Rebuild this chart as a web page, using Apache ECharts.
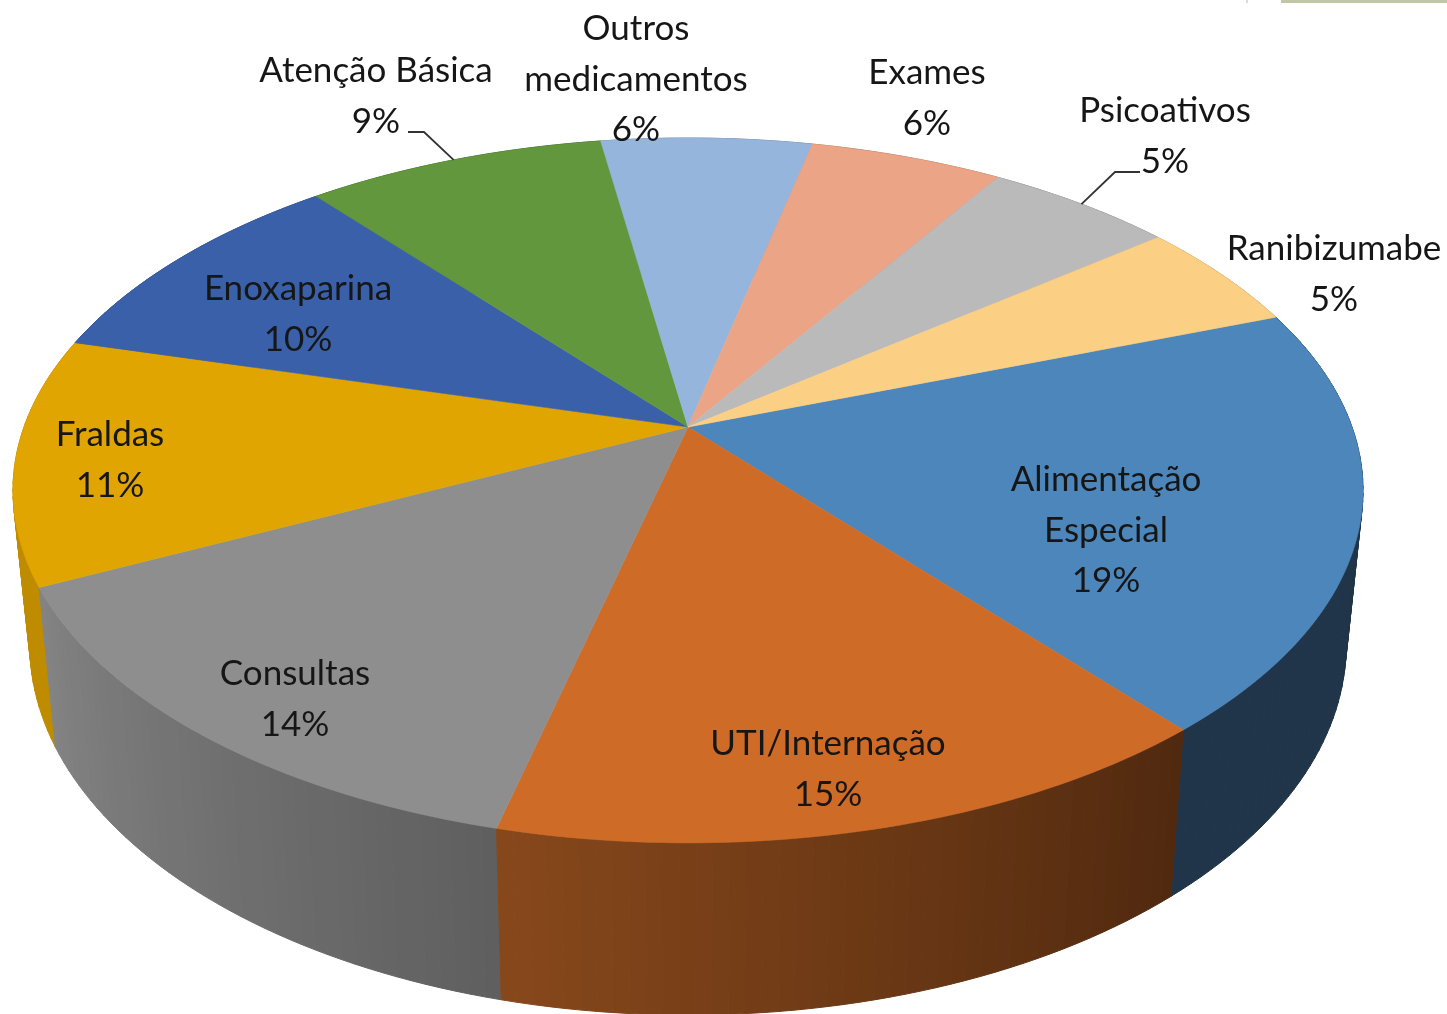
<!DOCTYPE html>
<html>
<head>
<meta charset="utf-8">
<style>html,body{margin:0;padding:0;background:#fff;overflow:hidden}#c{width:1447px;height:1014px}</style>
<script src="https://cdn.jsdelivr.net/npm/echarts@6/dist/echarts.min.js"></script>
</head>
<body>
<div id="c"></div>
<script>
// ---- data (share of spending, %; labels show them rounded)
var categories = ['Alimentação\nEspecial','UTI/Internação','Consultas','Fraldas','Enoxaparina','Atenção Básica','Outros\nmedicamentos','Exames','Psicoativos','Ranibizumabe'];
var shares = [19.44,14.94,14.03,11.31,9.83,8.53,6.01,5.50,5.37,5.04];

// ---- styles
var topColors  = ['#4C86BA','#CE6B27','#8E8E8E','#E0A500','#3A60A9','#62973D','#95B5DC','#EBA586','#BABABA','#FBCF84'];
var wallStart  = ['#203549','#50290F','#5F5F5F','#BF8C00','#2A4679','#476E2C','#6B83A0','#A87860','#868686','#B5965F'];
var wallEnd    = ['#203549','#87481B','#838383','#BF8C00','#2A4679','#476E2C','#6B83A0','#A87860','#868686','#B5965F'];
var FONT = 'Lato, "Open Sans", sans-serif';

// ---- layout: centres of the label blocks, and the slices that have a leader line
var labelCentres = [[1106,530.5],[828,769],[295,699],[110,460],[298,314],[376,96],[636,79.5],[927,98],[1165,136],[1334,274]];
var leaders = {5:[[408,132],[424,132]], 8:[[1140,172],[1115,172]]};

// ---- perspective disc
var CX=688, CY=427, A=664, B=341, K=0.18, START=70;
function rim(deg){
  var t=deg*Math.PI/180, u=Math.sin(t), v=-Math.cos(t), w=1-K*v;
  return [CX+A*u/w, CY+B*v/w];
}
function lower(p){ return [CX+0.975*(p[0]-CX), 1.05*p[1]+130]; }

var total = shares.reduce(function(a,b){return a+b;},0);
var bounds=[START];
shares.forEach(function(s,i){ bounds.push(bounds[i]+s/total*360); });

var tableData = categories.map(function(n,i){ return [i, shares[i]]; });
// walls are painted from the back of the disc to the front
var wallOrder = tableData.slice().sort(function(a,b){
  var ma=(bounds[a[0]]+bounds[a[0]+1])/2, mb=(bounds[b[0]]+bounds[b[0]+1])/2;
  return Math.abs(mb-180)-Math.abs(ma-180);
});

function renderWall(params, api){
  var i=api.value(0), a0=bounds[i], a1=bounds[i+1], n=Math.max(8,Math.ceil((a1-a0)/1.2)), kids=[];
  for(var j=0;j<n;j++){
    var d0=a0+(a1-a0)*j/n, d1=a0+(a1-a0)*(j+1)/n;
    var p0=rim(d0), p1=rim(d1), c=echarts.color.lerp((j+0.5)/n,[wallStart[i],wallEnd[i]]);
    kids.push({type:'polygon',shape:{points:[p0,p1,lower(p1),lower(p0)]},
      style:{fill:c,stroke:c,lineWidth:1},silent:true});
  }
  return {type:'group',children:kids};
}
function renderTop(params, api){
  var i=api.value(0), a0=bounds[i], a1=bounds[i+1], n=Math.ceil((a1-a0)/1), pts=[[CX,CY]];
  for(var j=0;j<=n;j++){ pts.push(rim(a0+(a1-a0)*j/n)); }
  return {type:'polygon',shape:{points:pts},style:{fill:topColors[i],stroke:topColors[i],lineWidth:0.6}};
}
function renderLabel(params, api){
  var i=api.value(0), kids=[];
  if(leaders[i]){
    var m=rim((bounds[i]+bounds[i+1])/2);
    kids.push({type:'polyline',shape:{points:leaders[i].concat([m])},
      style:{fill:null,stroke:'#333333',lineWidth:1.8},silent:true});
  }
  kids.push({type:'text',x:labelCentres[i][0],y:labelCentres[i][1],silent:true,
    style:{text:categories[i]+'\n'+Math.round(api.value(1))+'%',x:0,y:0,align:'center',verticalAlign:'middle',
      font:'35px '+FONT,lineHeight:50.5,fill:'#161616'}});
  return {type:'group',children:kids};
}

var chart = echarts.init(document.getElementById('c'),null,{renderer:'canvas'});
chart.setOption({
  animation:false,
  backgroundColor:'#ffffff',
  graphic:[
    {type:'rect',shape:{x:1281,y:0,width:166,height:3},style:{fill:'#BEC8A5'},silent:true},
    {type:'rect',shape:{x:1246,y:0,width:2,height:3},style:{fill:'#DADADA'},silent:true}
  ],
  series:[
    {type:'custom',coordinateSystem:'none',z:1,data:wallOrder,renderItem:renderWall,silent:true,clip:false},
    {type:'custom',coordinateSystem:'none',z:2,data:tableData,renderItem:renderTop,silent:true,clip:false},
    {type:'custom',coordinateSystem:'none',z:3,data:tableData,renderItem:renderLabel,silent:true,clip:false}
  ]
});
</script>
</body>
</html>
